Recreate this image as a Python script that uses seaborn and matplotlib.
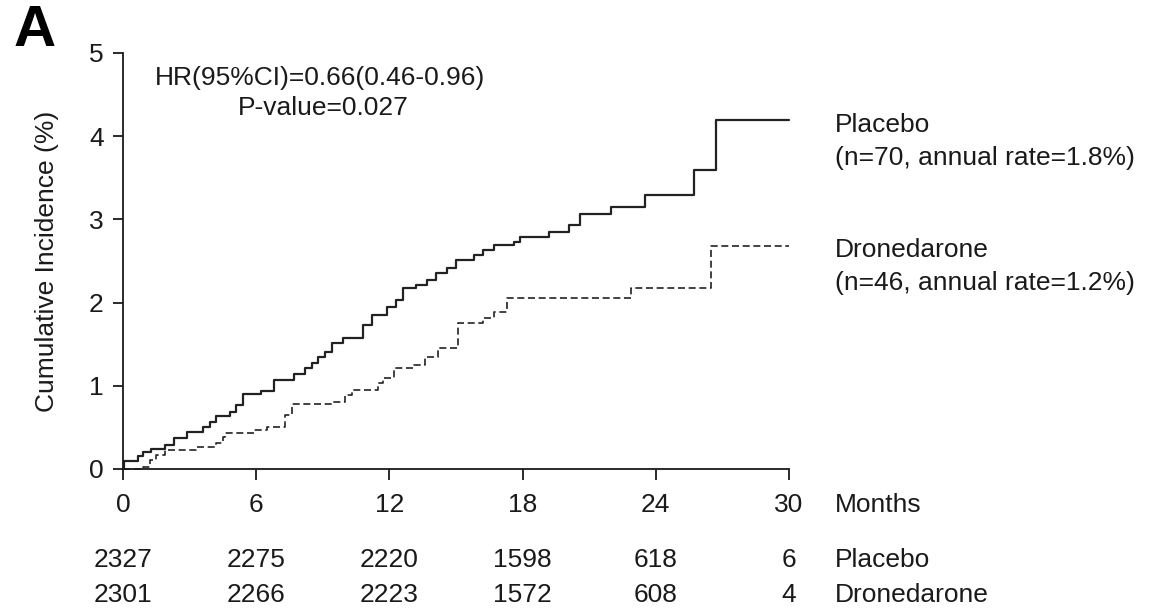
import matplotlib
matplotlib.use("Agg")
import matplotlib.pyplot as plt
import matplotlib.transforms as mtransforms
import seaborn as sns
import pandas as pd

# ---- data ----
placebo_months = [0, 0.05, 0.69, 0.9, 1.25, 1.9, 2.3, 2.9, 3.6, 3.9, 4.2, 4.8, 5.1, 5.4,
                  6.2, 6.8, 7.7, 8.2, 8.5, 8.8, 9.1, 9.4, 9.9, 10.8, 11.2, 11.9, 12.3,
                  12.6, 13.2, 13.7, 14.1, 14.6, 15.0, 15.8, 16.2, 16.7, 17.6, 17.9, 19.2,
                  20.1, 20.6, 22.0, 23.5, 25.7, 26.7, 30.0]
placebo_inc = [0.0, 0.10, 0.16, 0.21, 0.24, 0.29, 0.37, 0.45, 0.51, 0.56, 0.64, 0.69, 0.77,
               0.90, 0.94, 1.07, 1.14, 1.21, 1.27, 1.35, 1.41, 1.51, 1.57, 1.73, 1.85, 1.95,
               2.03, 2.17, 2.21, 2.27, 2.35, 2.42, 2.51, 2.57, 2.63, 2.69, 2.73, 2.79, 2.85,
               2.93, 3.07, 3.15, 3.29, 3.59, 4.19, 4.19]

drone_months = [0, 0.9, 1.2, 1.5, 1.9, 3.3, 4.2, 4.5, 4.6, 5.9, 6.5, 7.3, 7.6, 9.4, 10.0,
                10.3, 11.5, 11.7, 12.2, 13.1, 13.6, 14.2, 15.1, 16.2, 16.7, 17.3, 22.9,
                26.5, 30.0]
drone_inc = [0.0, 0.03, 0.11, 0.17, 0.23, 0.27, 0.31, 0.39, 0.43, 0.47, 0.51, 0.65, 0.78,
             0.81, 0.89, 0.95, 1.03, 1.09, 1.21, 1.25, 1.35, 1.45, 1.75, 1.81, 1.89, 2.05,
             2.17, 2.68, 2.68]

x_ticks = [0, 6, 12, 18, 24, 30]
y_ticks = [0, 1, 2, 3, 4, 5]
risk_placebo = [2327, 2275, 2220, 1598, 618, 6]
risk_drone = [2301, 2266, 2223, 1572, 608, 4]

hr_text = "HR(95%CI)=0.66(0.46-0.96)"
p_text = "P-value=0.027"
placebo_label = "Placebo"
placebo_note = "(n=70, annual rate=1.8%)"
drone_label = "Dronedarone"
drone_note = "(n=46, annual rate=1.2%)"

# ---- style ----
sns.set_style("ticks")
plt.rcParams['font.family'] = ['Liberation Sans', 'DejaVu Sans']
FS = 19
INK = "#1a1a1a"

W, H = 1157, 608
fig = plt.figure(figsize=(W / 100, H / 100), dpi=100)
ax = fig.add_axes([123 / W, 1 - 469 / H, (789 - 123) / W, (469 - 53) / H])

df_p = pd.DataFrame({"month": placebo_months, "inc": placebo_inc})
df_d = pd.DataFrame({"month": drone_months, "inc": drone_inc})

sns.lineplot(data=df_p, x="month", y="inc", ax=ax, drawstyle="steps-post",
             estimator=None, sort=False, color="#222222", linewidth=1.6,
             clip_on=False)
sns.lineplot(data=df_d, x="month", y="inc", ax=ax, drawstyle="steps-post",
             estimator=None, sort=False, color="#222222", linewidth=1.2,
             dashes=False, linestyle=(0, (4.2, 2.2)), clip_on=False)

ax.set_xlim(0, 30)
ax.set_ylim(0, 5)
ax.set_xticks(x_ticks)
ax.set_yticks(y_ticks)
ax.set_xticklabels([str(t) for t in x_ticks])
ax.set_yticklabels([str(t) for t in y_ticks])
sns.despine(ax=ax)
for s in ("left", "bottom"):
    ax.spines[s].set_linewidth(1.3)
    ax.spines[s].set_color(INK)
ax.tick_params(axis="x", length=8, width=1.3, color=INK, labelsize=FS, pad=9, labelcolor=INK)
ax.tick_params(axis="y", length=7, width=1.3, color=INK, labelsize=FS, pad=7, labelcolor=INK)
ax.set_xlabel("")
ax.set_ylabel("Cumulative Incidence (%)", fontsize=FS, color=INK)
ax.yaxis.set_label_coords((59 - 123) / (789 - 123), 0.5)

# "Months" axis title to the right
fig.text(835 / W, 1 - 505 / H, "Months", fontsize=FS, ha="left", va="center", color=INK)

# Panel letter
fig.text(14 / W, 1 - 31 / H, "A", fontsize=42, fontweight="bold", ha="left", va="center", color="black")

# HR / p-value
fig.text(320 / W, 1 - 78 / H, hr_text, fontsize=FS, ha="center", va="center", color=INK)
fig.text(323 / W, 1 - 108 / H, p_text, fontsize=FS, ha="center", va="center", color=INK)

# Curve labels
fig.text(835 / W, 1 - 125 / H, placebo_label, fontsize=FS, ha="left", va="center", color=INK)
fig.text(835 / W, 1 - 158 / H, placebo_note, fontsize=FS, ha="left", va="center", color=INK)
fig.text(835 / W, 1 - 250 / H, drone_label, fontsize=FS, ha="left", va="center", color=INK)
fig.text(835 / W, 1 - 283 / H, drone_note, fontsize=FS, ha="left", va="center", color=INK)

# Number-at-risk table
trans = mtransforms.blended_transform_factory(ax.transData, fig.transFigure)
for xt, n in zip(x_ticks, risk_placebo):
    ax.text(xt, 1 - 560 / H, str(n), transform=trans, fontsize=FS, ha="center",
            va="center", clip_on=False, color=INK)
for xt, n in zip(x_ticks, risk_drone):
    ax.text(xt, 1 - 595 / H, str(n), transform=trans, fontsize=FS, ha="center",
            va="center", clip_on=False, color=INK)
fig.text(835 / W, 1 - 560 / H, placebo_label, fontsize=FS, ha="left", va="center", color=INK)
fig.text(835 / W, 1 - 595 / H, drone_label, fontsize=FS, ha="left", va="center", color=INK)

fig.savefig("out.png", dpi=100)
